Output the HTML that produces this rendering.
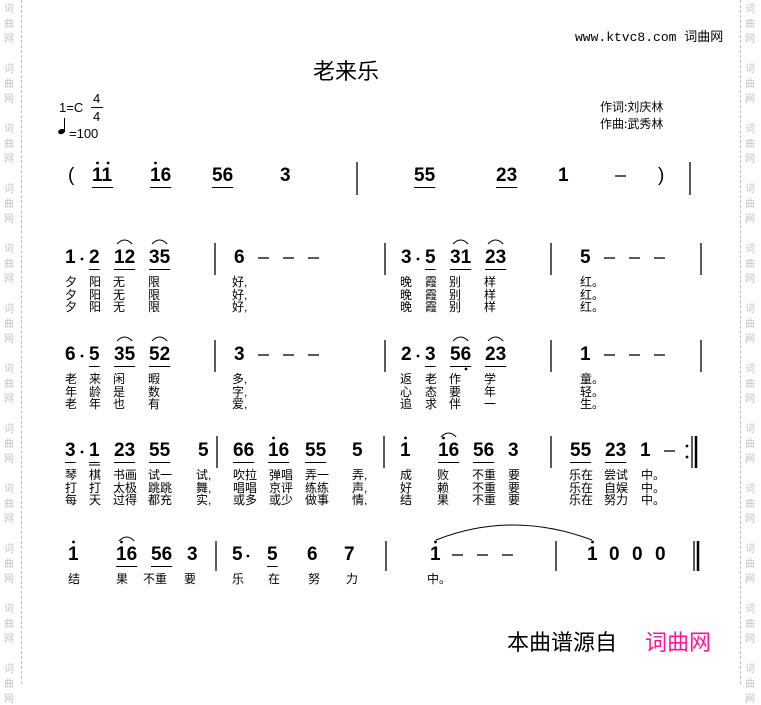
<!DOCTYPE html>
<html><head><meta charset="utf-8">
<style>
body{margin:0;width:761px;height:684px;background:#fff;position:relative;overflow:hidden;font-family:"Liberation Sans","Noto Sans CJK SC",sans-serif;}
.a{position:absolute;white-space:nowrap;}
.n{position:absolute;font:bold 19px "Liberation Sans",sans-serif;line-height:20px;color:#000;}
.l{position:absolute;font:12px "Liberation Sans","WenQuanYi Zen Hei","Noto Sans CJK SC",sans-serif;line-height:12.5px;white-space:pre;color:#000;}
.w{position:absolute;font:10px "WenQuanYi Zen Hei","Noto Sans CJK SC",sans-serif;color:#c4c4c4;}
</style></head><body>
<div class="a" style="left:21px;top:0;height:684px;border-left:1px dashed #bbb"></div>
<div class="a" style="left:740px;top:0;height:684px;border-left:1px dashed #bbb"></div>
<div class="a" style="left:313px;top:54px;font:22px 'WenQuanYi Zen Hei','Noto Sans CJK SC',sans-serif;">老来乐</div>
<div class="a" style="left:575px;top:26px;font:13px 'Liberation Mono','WenQuanYi Zen Hei',monospace;">www.ktvc8.com <span style="font-family:'WenQuanYi Zen Hei','Noto Sans CJK SC',sans-serif">词曲网</span></div>
<div class="a" style="left:600px;top:98px;font:12px 'WenQuanYi Zen Hei','Noto Sans CJK SC',sans-serif;line-height:17px">作词:刘庆林<br>作曲:武秀林</div>
<div class="a" style="left:59px;top:100px;font:13px 'Liberation Sans',sans-serif">1=C</div>
<div class="a" style="left:93px;top:91px;font:13px 'Liberation Sans',sans-serif">4</div>
<div class="a" style="left:91px;top:107px;width:12px;border-top:1px solid #000"></div>
<div class="a" style="left:93px;top:109px;font:13px 'Liberation Sans',sans-serif">4</div>
<div class="a" style="left:64px;top:118px;height:14px;border-left:1px solid #000"></div>
<div class="a" style="left:58px;top:129px;width:7px;height:5px;background:#000;border-radius:50%;transform:rotate(-20deg)"></div>
<div class="a" style="left:69px;top:126px;font:13px 'Liberation Sans',sans-serif">=100</div>
<div class="a" style="left:507px;top:625px;font:22px 'WenQuanYi Zen Hei','Noto Sans CJK SC',sans-serif">本曲谱源自</div>
<div class="a" style="left:645px;top:625px;font:22px 'WenQuanYi Zen Hei','Noto Sans CJK SC',sans-serif;color:#ff1493">词曲网</div>
<svg class="a" style="left:0;top:0" width="761" height="684" id="sv"></svg>
<script>
var B=document.body,S=document.getElementById('sv'),ns='http://www.w3.org/2000/svg';
function el(c,x,y,t,st){var d=document.createElement('div');d.className=c;d.style.left=x+'px';d.style.top=y+'px';d.textContent=t;if(st)d.style.cssText+=st;B.appendChild(d);return d;}
function line(x1,y1,x2,y2,w){var l=document.createElementNS(ns,'line');l.setAttribute('x1',x1);l.setAttribute('y1',y1);l.setAttribute('x2',x2);l.setAttribute('y2',y2);l.setAttribute('stroke','#000');l.setAttribute('stroke-width',w||1);S.appendChild(l);}
function path(d){var p=document.createElementNS(ns,'path');p.setAttribute('d',d);p.setAttribute('fill','none');p.setAttribute('stroke','#000');p.setAttribute('stroke-width',1);S.appendChild(p);}
function dot(x,y){var c=document.createElementNS(ns,'circle');c.setAttribute('cx',x);c.setAttribute('cy',y);c.setAttribute('r',1.4);S.appendChild(c);}
function N(x,cy,t,u,slur){var s=t.replace(/i/g,'1');el('n',x,cy-10,s);var w=s.length*10.6;
 for(var k=0;k<t.length;k++){if(t[k]=='i')dot(x+k*10.6+5.5,cy-13);}
 if(u){line(x,cy+11.5,x+w,cy+11.5);}
 if(slur){path('M'+(x+3)+' '+(cy-14)+' Q'+(x+w/2)+' '+(cy-22)+' '+(x+w-3)+' '+(cy-14));}}
function D(x,cy){line(x,cy,x+11,cy,1.3);}
function P(x,cy){dot(x,cy+1);}
function bar(x,y1,y2){line(x,y1,x,y2,1.3);}
var y=176;el('n',68,y-10,'(','font-weight:normal');N(92,y,'ii',1);N(150,y,'i6',1);N(212,y,'56',1);N(280,y,'3');bar(357,162,195);
N(414,y,'55',1);N(496,y,'23',1);N(558,y,'1');D(615,y);el('n',658,y-10,')','font-weight:normal');bar(690,162,195);
y=258;N(65,y,'1');P(82,y);N(89,y,'2',1);N(114,y,'12',1,1);N(149,y,'35',1,1);bar(215,243,275);
N(234,y,'6');D(258,y);D(283,y);D(308,y);bar(385,243,275);
N(401,y,'3');P(418,y);N(425,y,'5',1);N(450,y,'31',1,1);N(485,y,'23',1,1);bar(551,243,275);
N(580,y,'5');D(604,y);D(629,y);D(654,y);bar(701,243,275);
function L(x,y,t){el('l',x,y,t);}
L(65,276,'夕\n夕\n夕');L(89,276,'阳\n阳\n阳');L(113,276,'无\n无\n无');L(148,276,'限\n限\n限');L(232,276,'好,\n好,\n好,');
L(400,276,'晚\n晚\n晚');L(425,276,'霞\n霞\n霞');L(449,276,'别\n别\n别');L(484,276,'样\n样\n样');L(580,276,'红。\n红。\n红。');
y=355;N(65,y,'6');P(82,y);N(89,y,'5',1);N(114,y,'35',1,1);N(149,y,'52',1,1);bar(215,340,372);
N(234,y,'3');D(258,y);D(283,y);D(308,y);bar(385,340,372);
N(401,y,'2');P(418,y);N(425,y,'3',1);N(450,y,'56',1,1);dot(466,369);N(485,y,'23',1,1);bar(551,340,372);
N(580,y,'1');D(604,y);D(629,y);D(654,y);bar(701,340,372);
L(65,373,'老\n年\n老');L(89,373,'来\n龄\n年');L(113,373,'闲\n是\n也');L(148,373,'暇\n数\n有');L(232,373,'多,\n字,\n爱,');
L(400,373,'返\n心\n追');L(425,373,'老\n态\n求');L(449,373,'作\n要\n伴');L(484,373,'学\n年\n一');L(580,373,'童。\n轻。\n生。');
y=451;N(65,y,'3',1);P(82,y);N(89,y,'1',1);line(89,y+14,100,y+14);N(114,y,'23',1);N(149,y,'55',1);N(198,y,'5');bar(217,436,468);
N(233,y,'66',1);N(268,y,'i6',1);N(305,y,'55',1);N(352,y,'5');bar(384,436,468);
N(400,y,'i');N(438,y,'i6',1,1);N(473,y,'56',1);N(508,y,'3');bar(551,436,468);
N(570,y,'55',1);N(605,y,'23',1);N(640,y,'1');D(664,y);dot(687,446);dot(687,457);bar(692,436,468);line(696,436,696,468,2.5);
L(65,469,'琴\n打\n每');L(89,469,'棋\n打\n天');L(113,469,'书画\n太极\n过得');L(148,469,'试一\n跳跳\n都充');L(196,469,'试,\n舞,\n实,');
L(233,469,'吹拉\n唱唱\n或多');L(269,469,'弹唱\n京评\n或少');L(305,469,'弄一\n练练\n做事');L(352,469,'弄,\n声,\n情,');
L(400,469,'成\n好\n结');L(437,469,'败\n赖\n果');L(472,469,'不重\n不重\n不重');L(508,469,'要\n要\n要');
L(569,469,'乐在\n乐在\n乐在');L(604,469,'尝试\n自娱\n努力');L(641,469,'中。\n中。\n中。');
y=555;N(68,y,'i');N(116,y,'i6',1,1);N(151,y,'56',1);N(187,y,'3');bar(216,541,571);
N(232,y,'5');P(248,y);N(267,y,'5',1);N(307,y,'6');N(344,y,'7');bar(386,541,571);
N(430,y,'i');D(452,y);D(477,y);D(502,y);bar(556,541,571);
N(587,y,'i');N(609,y,'0');N(632,y,'0');N(655,y,'0');bar(694,541,571);line(698,541,698,571,2.5);
path('M436 540 Q512 510 592 540');
L(68,573,'结');L(116,573,'果');L(143,573,'不重');L(184,573,'要');L(232,573,'乐');L(268,573,'在');L(308,573,'努');L(346,573,'力');L(427,573,'中。');
for(var g=0;g<12;g++){var t=['词','曲','网'];for(var k=0;k<3;k++){el('w',4,g*60+k*15,t[k]);el('w',745,g*60+k*15,t[k]);}}
</script>
</body></html>
